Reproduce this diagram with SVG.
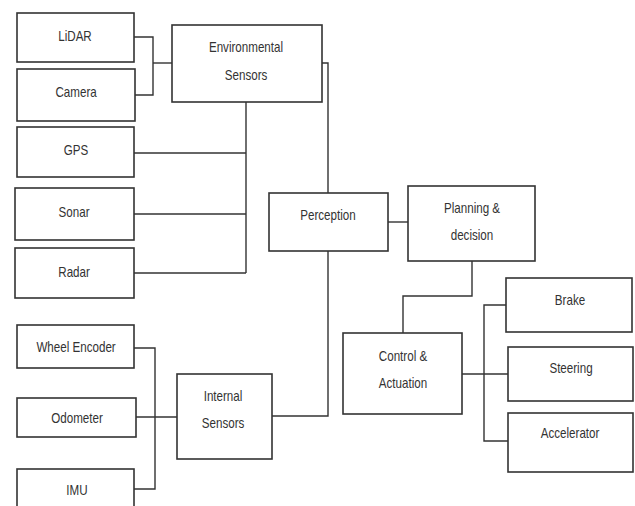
<svg xmlns="http://www.w3.org/2000/svg" width="635" height="506" viewBox="0 0 635 506">
<style>
.box{fill:#fff;stroke:#333;stroke-width:1.6}
.ln{fill:none;stroke:#333;stroke-width:1.4}
text{font-family:"Liberation Sans",Arial,sans-serif;font-size:14.5px;fill:#333;text-anchor:middle;transform-box:fill-box;transform-origin:center;transform:scaleX(0.8)}
</style>
<rect width="635" height="506" fill="#fff"/>
<g id="connectors" class="ln">
<polyline points="134,37 153,37 153,95 135,95"/>
<line x1="153" y1="63" x2="172" y2="63"/>
<line x1="246" y1="102" x2="246" y2="273"/>
<line x1="134" y1="153" x2="246" y2="153"/>
<line x1="134" y1="214" x2="246" y2="214"/>
<line x1="134" y1="273" x2="246" y2="273"/>
<polyline points="322,63 328,63 328,193"/>
<polyline points="328,251 328,416 272,416"/>
<line x1="388" y1="222" x2="408" y2="222"/>
<polyline points="472,261 472,296 403,296 403,333"/>
<line x1="462" y1="374" x2="508" y2="374"/>
<polyline points="506,305 484,305 484,441 508,441"/>
<polyline points="134,348 155,348 155,489 134,489"/>
<line x1="136" y1="417" x2="177" y2="417"/>
</g>
<g id="lidar"><rect class="box" x="17" y="13" width="117" height="49"/><text x="75" y="41">LiDAR</text></g>
<g id="camera"><rect class="box" x="17" y="69" width="118" height="52"/><text x="76" y="97">Camera</text></g>
<g id="env"><rect class="box" x="172" y="25" width="150" height="77"/><text x="246" y="52">Environmental</text><text x="246" y="80">Sensors</text></g>
<g id="gps"><rect class="box" x="17" y="127" width="117" height="50"/><text x="76" y="155">GPS</text></g>
<g id="sonar"><rect class="box" x="15" y="188" width="119" height="52"/><text x="74" y="217">Sonar</text></g>
<g id="radar"><rect class="box" x="15" y="248" width="119" height="50"/><text x="74" y="277">Radar</text></g>
<g id="perception"><rect class="box" x="269" y="193" width="119" height="58"/><text x="328" y="220">Perception</text></g>
<g id="planning"><rect class="box" x="408" y="186" width="127" height="75"/><text x="472" y="213">Planning &amp;</text><text x="472" y="240">decision</text></g>
<g id="control"><rect class="box" x="343" y="333" width="119" height="81"/><text x="403" y="361">Control &amp;</text><text x="403" y="388">Actuation</text></g>
<g id="brake"><rect class="box" x="506" y="278" width="126" height="54"/><text x="570" y="305">Brake</text></g>
<g id="steering"><rect class="box" x="508" y="347" width="125" height="54"/><text x="571" y="373">Steering</text></g>
<g id="accelerator"><rect class="box" x="508" y="413" width="125" height="59"/><text x="570" y="438">Accelerator</text></g>
<g id="wheel"><rect class="box" x="17" y="325" width="117" height="43"/><text x="76" y="352">Wheel Encoder</text></g>
<g id="odometer"><rect class="box" x="17" y="398" width="119" height="39"/><text x="77" y="423">Odometer</text></g>
<g id="imu"><rect class="box" x="17" y="469" width="117" height="50"/><text x="77" y="495">IMU</text></g>
<g id="internal"><rect class="box" x="177" y="374" width="95" height="85"/><text x="223" y="401">Internal</text><text x="223" y="428">Sensors</text></g>
</svg>
